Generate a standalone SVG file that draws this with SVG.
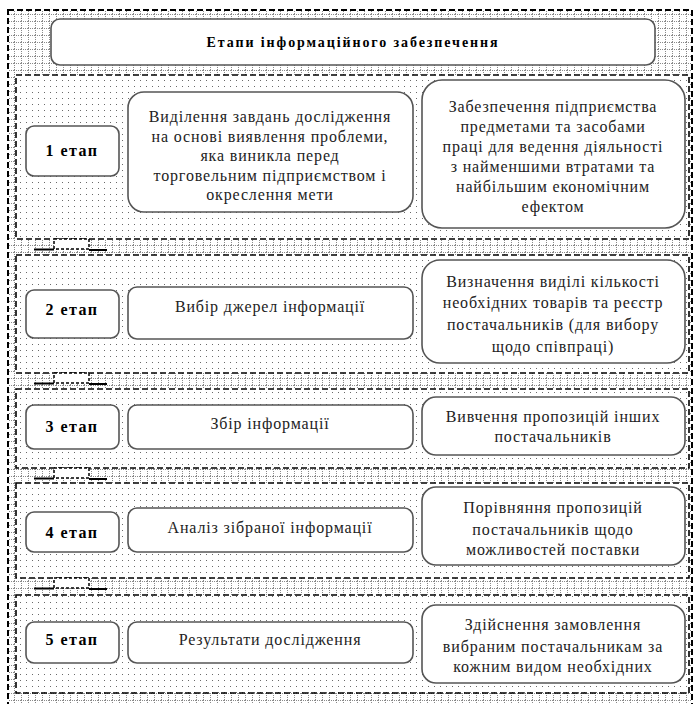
<svg xmlns="http://www.w3.org/2000/svg" width="695" height="704" viewBox="0 0 695 704">
<defs>
  <pattern id="grid" x="0" y="0" width="7" height="7" patternUnits="userSpaceOnUse">
    <rect width="7" height="7" fill="#ffffff"/>
    <path d="M0.5 0V7M0 0.5H7" stroke="#8a8a8a" stroke-width="1" stroke-dasharray="1 1"/>
  </pattern>
  <pattern id="dots" x="0" y="0" width="6" height="6" patternUnits="userSpaceOnUse">
    <rect width="6" height="6" fill="#ffffff"/>
    <rect x="2" y="2" width="1" height="1" fill="#6a6a6a"/>
  </pattern>
</defs>
<style>
  .outer { fill: url(#grid); stroke: #000; stroke-width: 2; stroke-dasharray: 6 3; }
  .panel { fill: url(#dots); stroke: #000; stroke-width: 1.6; stroke-dasharray: 6 3; }
  .box { fill: #fff; stroke: #555; stroke-width: 1.6; }
  .t { font-family: "Liberation Serif", "Times New Roman", serif; font-size: 16px; fill: #222; text-anchor: middle; letter-spacing: 0.85px; }
  .lbl { font-family: "Liberation Serif", "Times New Roman", serif; font-size: 16px; font-weight: bold; fill: #000; text-anchor: middle; letter-spacing: 1.5px; }
  .title { font-family: "Liberation Serif", "Times New Roman", serif; font-size: 14px; font-weight: bold; fill: #000; text-anchor: middle; letter-spacing: 1.9px; }
  .gapbox { fill: #fff; stroke: #000; stroke-width: 1.5; stroke-dasharray: 3 2; }
  .gapline { fill: none; stroke: #000; stroke-width: 1.8; }
</style>

<rect class="outer" x="8" y="10" width="684" height="700"/>

<g id="title">
  <rect class="box" x="51" y="19" width="604" height="46" rx="9"/>
  <text class="title" x="353" y="47">Етапи інформаційного забезпечення</text>
</g>

<g id="stage1">
  <rect class="panel" x="16" y="75" width="673" height="164"/>
  <rect class="box" x="26" y="126" width="93" height="50" rx="8"/>
  <text class="lbl" x="72" y="156">1 етап</text>
  <rect class="box" x="128" y="92" width="285" height="120" rx="16"/>
  <text class="t" x="270" y="122">Виділення завдань дослідження</text>
  <text class="t" x="270" y="141.5">на основі виявлення проблеми,</text>
  <text class="t" x="270" y="161">яка виникла перед</text>
  <text class="t" x="270" y="180.5">торговельним підприємством і</text>
  <text class="t" x="270" y="200">окреслення мети</text>
  <rect class="box" x="422" y="80" width="263" height="148" rx="20"/>
  <text class="t" x="553" y="112">Забезпечення підприємства</text>
  <text class="t" x="553" y="132">предметами та засобами</text>
  <text class="t" x="553" y="152">праці для ведення діяльності</text>
  <text class="t" x="553" y="172">з найменшими втратами та</text>
  <text class="t" x="553" y="192">найбільшим економічним</text>
  <text class="t" x="553" y="212">ефектом</text>
</g>

<g id="stage2">
  <rect class="panel" x="16" y="255" width="673" height="118"/>
  <rect class="box" x="26" y="290" width="93" height="48" rx="8"/>
  <text class="lbl" x="72" y="315">2 етап</text>
  <rect class="box" x="128" y="287" width="285" height="52" rx="9"/>
  <text class="t" x="270" y="312">Вибір джерел інформації</text>
  <rect class="box" x="422" y="260" width="263" height="103" rx="18"/>
  <text class="t" x="553" y="287">Визначення виділі кількості</text>
  <text class="t" x="553" y="308">необхідних товарів та реєстр</text>
  <text class="t" x="553" y="330">постачальників (для вибору</text>
  <text class="t" x="553" y="352">щодо співпраці)</text>
</g>

<g id="stage3">
  <rect class="panel" x="16" y="389" width="673" height="79"/>
  <rect class="box" x="26" y="405" width="93" height="44" rx="8"/>
  <text class="lbl" x="72" y="432">3 етап</text>
  <rect class="box" x="128" y="405" width="285" height="44" rx="9"/>
  <text class="t" x="270" y="429">Збір інформації</text>
  <rect class="box" x="422" y="397" width="263" height="58" rx="14"/>
  <text class="t" x="553" y="422">Вивчення пропозицій інших</text>
  <text class="t" x="553" y="442">постачальників</text>
</g>

<g id="stage4">
  <rect class="panel" x="16" y="483" width="673" height="95"/>
  <rect class="box" x="26" y="512" width="93" height="40" rx="8"/>
  <text class="lbl" x="72" y="538">4 етап</text>
  <rect class="box" x="128" y="508" width="285" height="44" rx="9"/>
  <text class="t" x="270" y="533">Аналіз зібраної інформації</text>
  <rect class="box" x="422" y="487" width="263" height="78" rx="14"/>
  <text class="t" x="553" y="513">Порівняння пропозицій</text>
  <text class="t" x="553" y="535">постачальників щодо</text>
  <text class="t" x="553" y="555">можливостей поставки</text>
</g>

<g id="stage5">
  <rect class="panel" x="16" y="595" width="673" height="98"/>
  <rect class="box" x="26" y="622" width="93" height="41" rx="8"/>
  <text class="lbl" x="72" y="645">5 етап</text>
  <rect class="box" x="128" y="622" width="285" height="41" rx="9"/>
  <text class="t" x="270" y="645">Результати дослідження</text>
  <rect class="box" x="422" y="605" width="263" height="78" rx="14"/>
  <text class="t" x="553" y="630">Здійснення замовлення</text>
  <text class="t" x="553" y="652">вибраним постачальникам за</text>
  <text class="t" x="553" y="672">кожним видом необхідних</text>
</g>

<g id="connectors">
  <rect class="gapbox" x="54" y="239" width="35" height="10"/>
  <path class="gapline" d="M34 249.5H54M89 250H107"/>
  <rect class="gapbox" x="54" y="373" width="35" height="10"/>
  <path class="gapline" d="M34 383.5H54M89 384H107"/>
  <rect class="gapbox" x="54" y="468" width="35" height="10"/>
  <path class="gapline" d="M34 478.5H54M89 479H107"/>
  <rect class="gapbox" x="54" y="578" width="35" height="10"/>
  <path class="gapline" d="M34 588.5H54M89 589H107"/>
</g>
</svg>
